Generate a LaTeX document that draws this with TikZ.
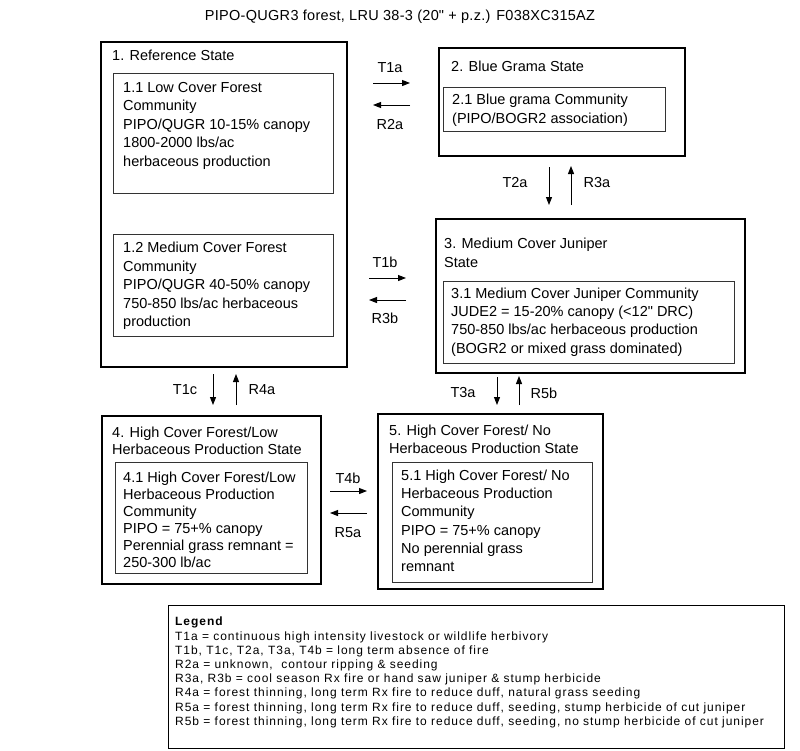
\documentclass[tikz,border=0pt]{standalone}
\usepackage{fontspec}
\setmainfont{Liberation Sans}
\usetikzlibrary{arrows.meta}
\begin{document}
\begin{tikzpicture}[x=1pt,y=-1pt,
 outer/.style={draw=black,line width=1.8pt,rectangle,anchor=north west,inner sep=0pt},
 innerbox/.style={draw=black!80,line width=0.9pt,rectangle,anchor=north west,inner sep=0pt},
 txt/.style={anchor=north west,inner sep=0pt,align=left,font=\fontsize{14.5}{18.5}\selectfont},
 lbl/.style={inner sep=0pt,font=\fontsize{14.5}{17}\selectfont},
 arr/.style={-{Triangle[length=8pt,width=6pt]},line width=1pt},
]
\useasboundingbox[fill=white] (0,0) rectangle (800,750);

\node[font=\fontsize{14.5}{16}\selectfont\addfontfeature{LetterSpace=2},inner sep=0pt] (title) at (400,17) {PIPO-QUGR3 forest, LRU 38-3 (20\textquotedbl{} + p.z.) F038XC315AZ};

% boxes
\node[outer,minimum width=246pt,minimum height=325pt] (s1) at (100,41) {};
\node[innerbox,minimum width=220pt,minimum height=120pt] (s11) at (113,73) {};
\node[innerbox,minimum width=220pt,minimum height=102pt] (s12) at (113,234) {};
\node[outer,minimum width=246pt,minimum height=108pt] (s2) at (438,47) {};
\node[innerbox,minimum width=222pt,minimum height=44pt] (s21) at (443,87) {};
\node[outer,minimum width=309pt,minimum height=154pt] (s3) at (435,218) {};
\node[innerbox,minimum width=291pt,minimum height=82pt] (s31) at (443,281) {};
\node[outer,minimum width=219pt,minimum height=168pt] (s4) at (101,415) {};
\node[innerbox,minimum width=192pt,minimum height=111pt] (s41) at (115,462) {};
\node[outer,minimum width=225pt,minimum height=175pt] (s5) at (377,413) {};
\node[innerbox,minimum width=200pt,minimum height=120pt] (s51) at (392,462) {};
\node[draw=black,line width=1.3pt,rectangle,anchor=north west,inner sep=0pt,minimum width=616pt,minimum height=143pt] (leg) at (168,605) {};

% texts
\node[txt] (t1) at (112,50) {1. Reference State};
\node[txt] (t11) at (123,82) {1.1 Low Cover Forest\\Community\\PIPO/QUGR 10-15\% canopy\\1800-2000 lbs/ac\\herbaceous production};
\node[txt] (t12) at (123,242) {1.2 Medium Cover Forest\\Community\\PIPO/QUGR 40-50\% canopy\\750-850 lbs/ac herbaceous\\production};
\node[txt] (t2) at (451,61) {2. Blue Grama State};
\node[txt] (t21) at (452,94) {2.1 Blue grama Community\\(PIPO/BOGR2 association)};
\node[txt] (t3) at (444,238) {3. Medium Cover Juniper\\State};
\node[txt,font=\fontsize{14.5}{18.1}\selectfont] (t31) at (451,288) {3.1 Medium Cover Juniper Community\\JUDE2 = 15-20\% canopy (<12\textquotedbl{} DRC)\\750-850 lbs/ac herbaceous production\\(BOGR2 or mixed grass dominated)};
\node[txt,font=\fontsize{14.5}{17}\selectfont] (t4) at (112,427) {4. High Cover Forest/Low\\Herbaceous Production State};
\node[txt,font=\fontsize{14.5}{17}\selectfont] (t41) at (123,472) {4.1 High Cover Forest/Low\\Herbaceous Production\\Community\\PIPO = 75+\% canopy\\Perennial grass remnant =\\250-300 lb/ac};
\node[txt,font=\fontsize{14.5}{17.3}\selectfont] (t5) at (389,425) {5. High Cover Forest/ No\\Herbaceous Production State};
\node[txt,font=\fontsize{14.5}{18.1}\selectfont] (t51) at (401,470) {5.1 High Cover Forest/ No\\Herbaceous Production\\Community\\PIPO = 75+\% canopy\\No perennial grass\\remnant};
\node[txt,font=\fontsize{12}{14.2}\selectfont\addfontfeature{LetterSpace=8}] (tleg) at (175,617) {\textbf{Legend}\\
T1a = continuous high intensity livestock or wildlife herbivory\\
T1b, T1c, T2a, T3a, T4b = long term absence of fire\\
R2a = unknown,\ \ contour ripping \& seeding\\
R3a, R3b = cool season Rx fire or hand saw juniper \& stump herbicide\\
R4a = forest thinning, long term Rx fire to reduce duff, natural grass seeding\\
R5a = forest thinning, long term Rx fire to reduce duff, seeding, stump herbicide of cut juniper\\
R5b = forest thinning, long term Rx fire to reduce duff, seeding, no stump herbicide of cut juniper};

% arrow end points
\coordinate (a1) at (373,83);  \coordinate (b1) at (410,83);
\coordinate (a2) at (410,105); \coordinate (b2) at (373,105);
\coordinate (a3) at (369,278); \coordinate (b3) at (406,278);
\coordinate (a4) at (406,300); \coordinate (b4) at (369,300);
\coordinate (a5) at (549,167); \coordinate (b5) at (549,205);
\coordinate (a6) at (571,205); \coordinate (b6) at (571,166);
\coordinate (a7) at (213,374); \coordinate (b7) at (213,405);
\coordinate (a8) at (236,405); \coordinate (b8) at (236,374);
\coordinate (a9) at (497,377); \coordinate (b9) at (497,405);
\coordinate (a10) at (519,405); \coordinate (b10) at (519,376);
\coordinate (a11) at (330,491); \coordinate (b11) at (367,491);
\coordinate (a12) at (367,513); \coordinate (b12) at (330,513);

\draw[arr] (a1) -- (b1);
\draw[arr] (a2) -- (b2);
\draw[arr] (a3) -- (b3);
\draw[arr] (a4) -- (b4);
\draw[arr] (a5) -- (b5);
\draw[arr] (a6) -- (b6);
\draw[arr] (a7) -- (b7);
\draw[arr] (a8) -- (b8);
\draw[arr] (a9) -- (b9);
\draw[arr] (a10) -- (b10);
\draw[arr] (a11) -- (b11);
\draw[arr] (a12) -- (b12);

% labels
\node[lbl] (l1) at (390,68) {T1a};
\node[lbl] (l2) at (390,125) {R2a};
\node[lbl] (l3) at (385,262) {T1b};
\node[lbl] (l4) at (385,318) {R3b};
\node[lbl] (l5) at (515,183) {T2a};
\node[lbl] (l6) at (597,183) {R3a};
\node[lbl] (l7) at (185,390) {T1c};
\node[lbl] (l8) at (262,390) {R4a};
\node[lbl] (l9) at (463,393) {T3a};
\node[lbl] (l10) at (544,393) {R5b};
\node[lbl] (l11) at (348,478) {T4b};
\node[lbl] (l12) at (348,533) {R5a};
\end{tikzpicture}
\end{document}
